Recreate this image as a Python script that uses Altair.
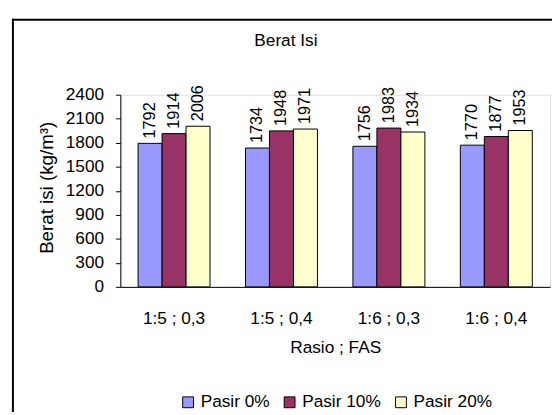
import altair as alt
import pandas as pd

groups = ["1:5 ; 0,3", "1:5 ; 0,4", "1:6 ; 0,3", "1:6 ; 0,4"]
series = ["Pasir 0%", "Pasir 10%", "Pasir 20%"]
pasir0 = [1792, 1734, 1756, 1770]
pasir10 = [1914, 1948, 1983, 1877]
pasir20 = [2006, 1971, 1934, 1953]
colors = ["#9999FF", "#993366", "#FFFFCC"]
y_ticks = [0, 300, 600, 900, 1200, 1500, 1800, 2100, 2400]
chart_title = ["Berat Isi"]

rows = []
for s, vals in zip(series, [pasir0, pasir10, pasir20]):
    for g, v in zip(groups, vals):
        rows.append({"rasio": g, "seri": s, "nilai": v})
df = pd.DataFrame(rows)

FONT = "Liberation Sans"

x_enc = alt.X(
    "rasio:N",
    sort=groups,
    scale=alt.Scale(paddingInner=0.33, paddingOuter=0.165),
    axis=alt.Axis(
        title="Rasio ; FAS", labelAngle=0, ticks=False, labelPadding=23,
        domainColor="black", labelFontSize=17.5, titleFontSize=17.5,
        titleFontWeight="normal", titleY=62, titleBaseline="middle",
        labelColor="black", titleColor="black", labelFont=FONT, titleFont=FONT,
    ),
)
xoff = alt.XOffset("seri:N", sort=series, scale=alt.Scale(paddingInner=0, paddingOuter=0))
y_enc = alt.Y(
    "nilai:Q",
    scale=alt.Scale(domain=[0, 2400], nice=False),
    axis=alt.Axis(
        title="Berat isi (kg/m³)", values=y_ticks, format="d", grid=False, domainColor="black",
        tickColor="black", tickSize=5, labelPadding=12, labelFontSize=17.5,
        labelColor="black", labelFont=FONT, titleFont=FONT, titleFontSize=19,
        titleFontWeight="normal", titleColor="black", titleAngle=270,
        titleX=-75, titleY=94, titleAlign="center", titleBaseline="middle",
    ),
)
color_enc = alt.Color(
    "seri:N", sort=series,
    scale=alt.Scale(domain=series, range=colors),
    legend=alt.Legend(
        title=None, orient="none", legendX=60, legendY=303, direction="horizontal",
        symbolType="square", symbolSize=121, symbolStrokeColor="black",
        symbolStrokeWidth=1, symbolOpacity=1, labelFontSize=17.5, labelOffset=4,
        columnPadding=11, labelFont=FONT, labelColor="black",
    ),
)

bars = alt.Chart(df).mark_bar(stroke="black", strokeWidth=1, opacity=1).encode(
    x=x_enc, xOffset=xoff, y=y_enc, color=color_enc
)
labels = alt.Chart(df).mark_text(
    angle=270, align="left", baseline="middle", dx=5, fontSize=16.5, font=FONT, color="black"
).encode(x=x_enc, xOffset=xoff, y=y_enc, text="nilai:Q")

one = pd.DataFrame({"t": chart_title})
frame_top = alt.Chart(one).mark_rule(color="black", strokeWidth=2).encode(
    x=alt.value(-110), x2=alt.value(700), y=alt.value(-76)
)
frame_left = alt.Chart(one).mark_rule(color="black", strokeWidth=2).encode(
    x=alt.value(-109), y=alt.value(-77), y2=alt.value(600)
)
title = alt.Chart(one).mark_text(fontSize=17.5, font=FONT, color="black", baseline="middle").encode(
    x=alt.value(168), y=alt.value(-54), text="t:N"
)

chart = alt.layer(frame_top, frame_left, title, bars, labels).properties(
    width=436, height=195,
    padding={"left": 114, "top": 85, "right": 2, "bottom": 124},
    autosize="none",
).configure_view(stroke="#808080", strokeWidth=1).configure(background="white")

chart.save("out.html", embed_options={"renderer": "svg", "actions": False})
